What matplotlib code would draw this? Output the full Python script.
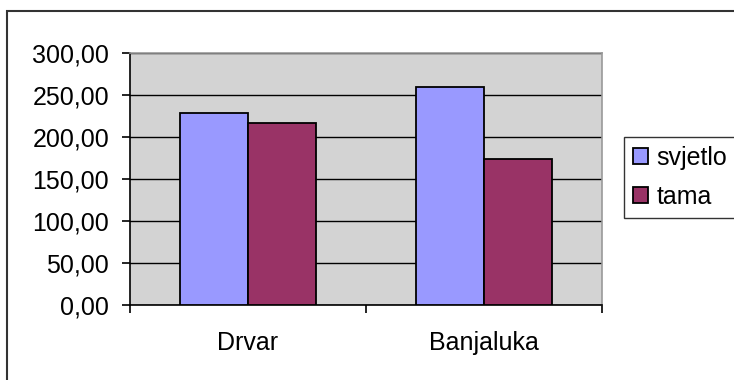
import numpy as np
import matplotlib.pyplot as plt
from matplotlib.patches import Rectangle
from matplotlib.ticker import FuncFormatter

plt.rcParams['font.family'] = ['Liberation Sans', 'DejaVu Sans']

# Data
cities = ['Drvar', 'Banjaluka']
svjetlo = [228.6, 259.5]
tama = [216.7, 174.3]
yticks = [0, 50, 100, 150, 200, 250, 300]

fig = plt.figure(figsize=(7.34, 3.80), dpi=100)
ax = fig.add_axes([130 / 734, 75 / 380, 472 / 734, 252 / 380])
ax.set_facecolor('#d3d3d3')

x = np.arange(1, len(cities) + 1)
w = 0.288
ax.bar(x - w / 2, svjetlo, w, color='#9999ff', edgecolor='black', linewidth=1.3, label='svjetlo', zorder=3)
ax.bar(x + w / 2, tama, w, color='#993366', edgecolor='black', linewidth=1.3, label='tama', zorder=3)

ax.set_xlim(0.5, len(cities) + 0.5)
ax.set_ylim(0, 300)
ax.set_yticks(yticks)
ax.yaxis.set_major_formatter(FuncFormatter(lambda v, p: f'{v:.2f}'.replace('.', ',')))
ax.yaxis.grid(True, color='black', linewidth=1.0, zorder=1)
ax.set_axisbelow(True)

# category labels in the middle, tick marks between categories
ax.set_xticks(x)
ax.set_xticklabels(cities)
ax.set_xticks(np.arange(0.5, len(cities) + 1, 1), minor=True)
ax.tick_params(axis='x', which='major', length=0, pad=19, labelsize=18)
ax.tick_params(axis='x', which='minor', length=6, width=1.2, color='black')
ax.tick_params(axis='y', length=6, width=1.2, pad=9, labelsize=18)

for s in ['left', 'bottom']:
    ax.spines[s].set_color('black')
    ax.spines[s].set_linewidth(1.2)
for s in ['top', 'right']:
    ax.spines[s].set_color('#999999')
    ax.spines[s].set_linewidth(1.2)

leg = ax.legend(loc='upper left', bbox_to_anchor=(624 / 734, 1 - 137 / 380),
                bbox_transform=fig.transFigure, fontsize=18, frameon=True,
                fancybox=False, edgecolor='black', handlelength=0.6,
                handleheight=0.6, handletextpad=0.35, borderpad=0.35,
                labelspacing=0.6, borderaxespad=0)
leg.get_frame().set_linewidth(1.0)

# chart area border
fig.patches.append(Rectangle((7 / 734, -0.1), 1.0, 1 - 11 / 380 + 0.1,
                             transform=fig.transFigure, fill=False,
                             edgecolor='#333333', linewidth=1.5))

fig.savefig('out.png', dpi=100)
